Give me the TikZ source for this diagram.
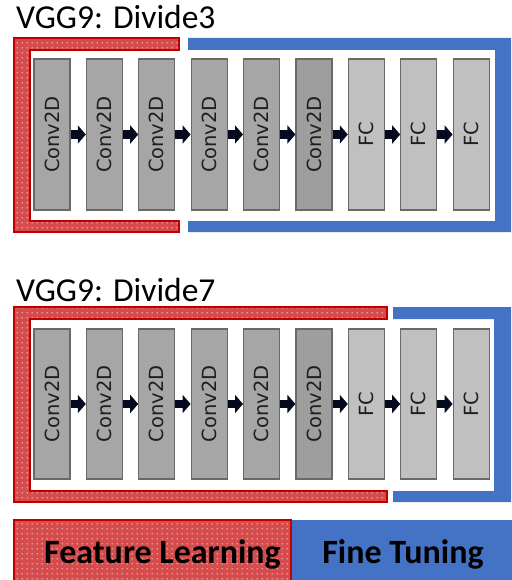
\documentclass[tikz,border=0pt]{standalone}
\usepackage{fontspec}
\setmainfont{Carlito}
\newfontfamily\boxfont{DejaVu Sans}
\usetikzlibrary{arrows.meta,patterns.meta}
\definecolor{frred}{RGB}{192,0,0}
\definecolor{patred}{RGB}{214,76,76}
\definecolor{ftblue}{RGB}{68,114,196}
\definecolor{convgray}{RGB}{166,166,166}
\definecolor{convdark}{RGB}{158,158,158}
\definecolor{fcgray}{RGB}{192,192,192}
\definecolor{boxedge}{RGB}{105,105,105}
\definecolor{arrowink}{RGB}{5,10,30}
\definecolor{boxtext}{RGB}{30,30,30}
\pgfdeclarepattern{name=wdots, type=uncolored,
  bottom left={\pgfpoint{0pt}{0pt}}, top right={\pgfpoint{5pt}{5pt}},
  tile size={\pgfpoint{5pt}{5pt}},
  code={\pgfpathcircle{\pgfpoint{2.5pt}{2.5pt}}{0.8pt}\pgfusepath{fill}}}
\begin{document}
\begin{tikzpicture}[x=1pt,y=-1pt,
  layer/.style={draw=boxedge, line width=1.2pt, minimum width=36pt, inner sep=0pt,
    text=boxtext, font=\boxfont\fontsize{19.5}{19.5}\selectfont},
  conv/.style={layer, fill=convgray},
  fc/.style={layer, fill=fcgray},
  flow/.style={arrowink, line width=8.5pt, -{Triangle[length=8pt,width=18pt]}},
  fl/.style={preaction={fill=patred}, pattern=wdots, pattern color=white!85!patred, draw=frred, line width=1.5pt},
  ft/.style={fill=ftblue},
  title/.style={font=\fontsize{33.5}{36}\selectfont, anchor=base west, inner sep=0pt},
  legtext/.style={font=\bfseries\fontsize{34}{36}\selectfont, anchor=base, inner sep=0pt, text=black}]
\useasboundingbox (0,0) rectangle (511,580);

% ---- Divide3 ----
\node[title] (t1) at (16,29) {VGG9: Divide3};
\path[fl] (14,38) -- (179,38) -- (179,50) -- (30,50) -- (30,221) -- (179,221) -- (179,232) -- (14,232) -- cycle;
\fill[ft] (188,38) -- (511,38) -- (511,232) -- (188,232) -- (188,221) -- (495,221) -- (495,50) -- (188,50) -- cycle;
\foreach \i in {1,...,5}
  \node[conv, minimum height=151pt] (a\i) at ({52+52.4*(\i-1)},134.5) {\rotatebox{90}{Conv2D}};
\node[conv, fill=convdark, minimum height=151pt] (a6) at ({52+52.4*5},134.5) {\rotatebox{90}{Conv2D}};
\foreach \i in {7,8,9}
  \node[fc, minimum height=151pt] (a\i) at ({52+52.4*(\i-1)},134.5) {\rotatebox{90}{FC}};
\foreach \i [evaluate=\i as \j using int(\i+1)] in {1,...,8}
  \draw[flow] (a\i) -- (a\j);

% ---- Divide7 ----
\node[title] (t2) at (16,301) {VGG9: Divide7};
\path[fl] (14,307) -- (387,307) -- (387,319) -- (30,319) -- (30,491) -- (387,491) -- (387,502) -- (14,502) -- cycle;
\fill[ft] (393,307) -- (511,307) -- (511,502) -- (393,502) -- (393,491) -- (494,491) -- (494,319) -- (393,319) -- cycle;
\foreach \i in {1,...,5}
  \node[conv, minimum height=150pt] (b\i) at ({52+52.4*(\i-1)},404) {\rotatebox{90}{Conv2D}};
\node[conv, fill=convdark, minimum height=150pt] (b6) at ({52+52.4*5},404) {\rotatebox{90}{Conv2D}};
\foreach \i in {7,8,9}
  \node[fc, minimum height=150pt] (b\i) at ({52+52.4*(\i-1)},404) {\rotatebox{90}{FC}};
\foreach \i [evaluate=\i as \j using int(\i+1)] in {1,...,8}
  \draw[flow] (b\i) -- (b\j);

% ---- legend ----
\node[fl, minimum width=277pt, minimum height=64pt, anchor=north west, inner sep=0pt, outer sep=0pt] (leg1) at (14,520) {};
\node[ft, minimum width=221pt, minimum height=64pt, anchor=north west, inner sep=0pt, outer sep=0pt] (leg2) at (291,520) {};
\draw[frred, line width=1.5pt] (leg1.south west) -- (leg1.north west) -- (leg1.north east) -- (leg1.south east);
\node[legtext] (l1) at (162.5,563) {Feature Learning};
\node[legtext] (l2) at (403,563) {Fine Tuning};
\end{tikzpicture}
\end{document}
